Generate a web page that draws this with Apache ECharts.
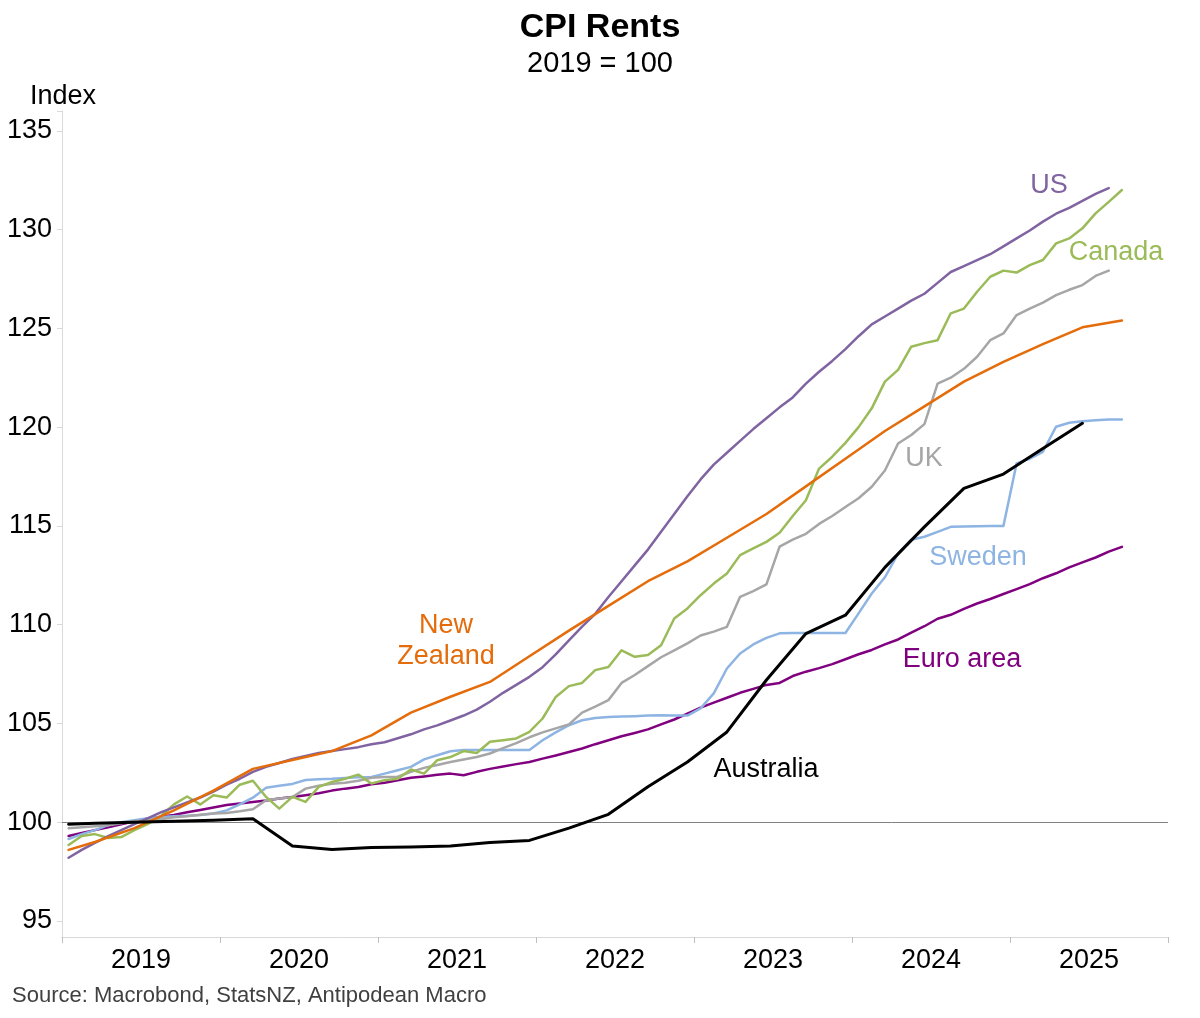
<!DOCTYPE html>
<html>
<head>
<meta charset="utf-8">
<script src="https://cdn.jsdelivr.net/npm/echarts@6/dist/echarts.min.js"></script>
<style>
html,body{margin:0;padding:0;background:#fff;}
#chart{width:1200px;height:1018px;}
</style>
</head>
<body>
<div id="chart"></div>
<script>
// ---- Data (index, 2019 = 100) ----
const yearLabels = ['2019', '2020', '2021', '2022', '2023', '2024', '2025'];
const monthlyStart = '2019-01';

const usValues = [
  98.2, 98.6, 98.95, 99.3, 99.6, 99.9, 100.2, 100.5, 100.75, 101.0,
  101.25, 101.55, 101.9, 102.2, 102.55, 102.8, 103.0, 103.2, 103.35, 103.5,
  103.6, 103.7, 103.8, 103.95, 104.05, 104.25, 104.45, 104.7, 104.9, 105.15,
  105.4, 105.7, 106.1, 106.55, 106.95, 107.36, 107.85, 108.5, 109.2, 109.9,
  110.55, 111.4, 112.2, 113.0, 113.8, 114.7, 115.6, 116.5, 117.35, 118.1,
  118.7, 119.3, 119.9, 120.45, 121.0, 121.5, 122.2, 122.8, 123.35, 123.95,
  124.6, 125.2, 125.6, 126.0, 126.4, 126.75, 127.3, 127.85, 128.15, 128.45,
  128.75, 129.15, 129.55, 129.95, 130.4, 130.8, 131.1, 131.45, 131.8, 132.1
];

const canadaValues = [
  98.85, 99.3, 99.4, 99.2, 99.25, 99.6, 99.9, 100.3, 100.9, 101.3,
  100.9, 101.37, 101.25, 101.9, 102.1, 101.28, 100.69, 101.28, 101.03, 101.79,
  102.04, 102.2, 102.41, 101.96, 102.13, 102.2, 102.67, 102.46, 103.14, 103.3,
  103.6, 103.5, 104.07, 104.15, 104.24, 104.57, 105.25, 106.34, 106.89, 107.05,
  107.7, 107.86, 108.7, 108.37, 108.46, 108.96, 110.31, 110.82, 111.49, 112.08,
  112.59, 113.52, 113.86, 114.19, 114.65, 115.5, 116.3, 117.9, 118.5, 119.2,
  120.0, 120.95, 122.3, 122.9, 124.07, 124.25, 124.4, 125.76, 126.0, 126.85,
  127.61, 127.92, 127.82, 128.2, 128.46, 129.3, 129.55, 130.06, 130.82, 131.4, 132.0
];

const ukValues = [
  99.7, 99.75, 99.8, 99.85, 99.95, 100.05, 100.1, 100.15, 100.25, 100.3,
  100.38, 100.44, 100.47, 100.55, 100.66, 101.11, 101.2, 101.27, 101.7, 101.85,
  101.95, 102.0, 102.1, 102.25, 102.29, 102.3, 102.55, 102.75, 102.9, 103.05,
  103.17, 103.3, 103.48, 103.75, 104.0, 104.3, 104.55, 104.75, 104.95, 105.55,
  105.85, 106.18, 107.05, 107.45, 107.9, 108.35, 108.7, 109.05, 109.45, 109.65,
  109.89, 111.41, 111.7, 112.04, 113.95, 114.3, 114.6, 115.1, 115.5, 115.96,
  116.4, 116.98, 117.8, 119.17, 119.6, 120.15, 122.2, 122.5, 122.95, 123.56,
  124.4, 124.74, 125.67, 126.0, 126.3, 126.68, 126.95, 127.19, 127.65, 127.92
];

const swedenValues = [
  99.15, 99.4, 99.6, 99.85, 100.0, 100.1, 100.2, 100.27, 100.3, 100.33,
  100.36, 100.44, 100.6, 100.9, 101.24, 101.74, 101.85, 101.94, 102.14, 102.18,
  102.2, 102.24, 102.28, 102.29, 102.46, 102.63, 102.8, 103.18, 103.39, 103.59,
  103.65, 103.65, 103.65, 103.65, 103.65, 103.65, 104.15, 104.55, 104.91, 105.16,
  105.28, 105.32, 105.35, 105.37, 105.4, 105.42, 105.4, 105.4, 105.76, 106.52,
  107.78, 108.54, 109.0, 109.33, 109.56, 109.58, 109.58, 109.58, 109.58, 109.58,
  110.57, 111.58, 112.4, 113.6, 114.3, 114.45, 114.7, 114.95, 114.97, 114.98,
  114.99, 114.99, 118.16, 118.4, 118.75, 120.02, 120.22, 120.3, 120.35, 120.38, 120.39
];

const euroValues = [
  99.3, 99.45, 99.6, 99.75, 99.9, 100.05, 100.18, 100.28, 100.37, 100.5,
  100.62, 100.75, 100.87, 100.95, 101.02, 101.1, 101.2, 101.28, 101.37, 101.47,
  101.6, 101.7, 101.78, 101.92, 102.0, 102.12, 102.25, 102.32, 102.4, 102.46,
  102.38, 102.55, 102.7, 102.82, 102.94, 103.05, 103.22, 103.38, 103.55, 103.73,
  103.95, 104.15, 104.35, 104.52, 104.7, 104.95, 105.2, 105.5, 105.8, 106.05,
  106.3, 106.55, 106.75, 106.95, 107.05, 107.4, 107.62, 107.8, 108.0, 108.25,
  108.5, 108.72, 109.0, 109.25, 109.6, 109.92, 110.3, 110.5, 110.8, 111.07,
  111.3, 111.55, 111.8, 112.05, 112.35, 112.6, 112.9, 113.15, 113.4, 113.7, 113.94
];

const nzDates = [
  '2019-01', '2019-03', '2019-06', '2019-09', '2019-12',
  '2020-03', '2020-06', '2020-09', '2020-12',
  '2021-03', '2021-06', '2021-09', '2021-12',
  '2022-03', '2022-06', '2022-09', '2022-12',
  '2023-03', '2023-06', '2023-09', '2023-12',
  '2024-03', '2024-06', '2024-09', '2024-12',
  '2025-03', '2025-06', '2025-09'
];
const nzValues = [
  98.6, 99.0, 99.7, 100.6, 101.6,
  102.7, 103.15, 103.6, 104.4,
  105.55, 106.35, 107.1, 108.4,
  109.7, 110.95, 112.2, 113.2,
  114.4, 115.6, 117.0, 118.4,
  119.8, 121.05, 122.3, 123.3,
  124.2, 125.05, 125.4
];

const auDates = [
  '2019-01', '2019-03', '2019-06', '2019-09', '2019-12',
  '2020-03', '2020-06', '2020-09', '2020-12',
  '2021-03', '2021-06', '2021-09', '2021-12',
  '2022-03', '2022-06', '2022-09', '2022-12',
  '2023-03', '2023-06', '2023-09', '2023-12',
  '2024-03', '2024-06', '2024-09', '2024-12',
  '2025-03', '2025-06'
];
const auValues = [
  99.9, 99.95, 100.0, 100.05, 100.1,
  100.17, 98.8, 98.62, 98.72,
  98.75, 98.8, 98.97, 99.08,
  99.7, 100.4, 101.8, 103.05,
  104.57, 107.2, 109.55, 110.48,
  112.9, 114.95, 116.9, 117.62,
  118.92, 120.19
];

// ---- helpers: month position (mid-month, months since Jan 2019) ----
function monthPos(d) {
  const [y, m] = d.split('-').map(Number);
  return (y - 2019) * 12 + (m - 1) + 0.5;
}
function monthlySeries(values) {
  const base = monthPos(monthlyStart);
  return values.map((v, i) => [base + i, v]);
}
function datedSeries(dates, values) {
  return dates.map((d, i) => [monthPos(d), values[i]]);
}

const FONT = '"Liberation Sans", Arial, Helvetica, sans-serif';

const colors = {
  us: '#8064A2',
  canada: '#9BBB59',
  uk: '#A6A6A6',
  nz: '#E46C0A',
  sweden: '#8DB4E2',
  euro: '#800080',
  au: '#000000'
};

function lineSeries(name, data, color, width, z) {
  return {
    name: name,
    type: 'line',
    data: data,
    showSymbol: false,
    symbol: 'none',
    smooth: false,
    z: z,
    lineStyle: { color: color, width: width, join: 'round', cap: 'round' },
    itemStyle: { color: color },
    emphasis: { disabled: true }
  };
}

const chart = echarts.init(document.getElementById('chart'), null, { renderer: 'canvas' });

const GRID = { left: 62, right: 32, top: 111, bottom: 97 };

const euroSeries = lineSeries('Euro area', monthlySeries(euroValues), colors.euro, 2.5, 3);
euroSeries.markLine = {
  silent: true,
  symbol: 'none',
  label: { show: false },
  lineStyle: { color: '#808080', width: 1, type: 'solid' },
  emphasis: { disabled: true },
  data: [{ yAxis: 100 }]
};

function annot(text, x, y, color) {
  return {
    type: 'text', x: x, y: y, z: 100,
    style: {
      text: text, fill: color, font: '27px ' + FONT,
      align: 'center', verticalAlign: 'middle',
      textAlign: 'center', textVerticalAlign: 'middle'
    }
  };
}

const option = {
  animation: false,
  backgroundColor: '#ffffff',
  grid: GRID,
  xAxis: [
    {
      type: 'value', min: 0, max: 84, interval: 12, offset: 16,
      axisLine: { show: true, lineStyle: { color: '#d9d9d9', width: 1 } },
      axisTick: { show: true, length: 6, lineStyle: { color: '#bfbfbf', width: 1 } },
      axisLabel: { show: false },
      splitLine: { show: false }
    },
    {
      type: 'category', data: yearLabels, boundaryGap: true,
      position: 'bottom', offset: 16,
      axisLine: { show: false }, axisTick: { show: false },
      axisLabel: { fontSize: 27, color: '#000', margin: 10, fontFamily: FONT },
      splitLine: { show: false }
    }
  ],
  yAxis: {
    type: 'value', min: 95, max: 136, interval: 5,
    axisLine: { show: true, lineStyle: { color: '#d9d9d9', width: 1 } },
    axisTick: { show: true, length: 5, lineStyle: { color: '#d9d9d9', width: 1 } },
    axisLabel: {
      fontSize: 27, color: '#000', margin: 10, fontFamily: FONT,
      formatter: v => (v % 5 === 0 ? String(v) : '')
    },
    splitLine: { show: false }
  },
  series: [
    euroSeries,
    lineSeries('Sweden', monthlySeries(swedenValues), colors.sweden, 2.5, 4),
    lineSeries('UK', monthlySeries(ukValues), colors.uk, 2.5, 5),
    lineSeries('Canada', monthlySeries(canadaValues), colors.canada, 2.5, 6),
    lineSeries('US', monthlySeries(usValues), colors.us, 2.5, 7),
    lineSeries('New Zealand', datedSeries(nzDates, nzValues), colors.nz, 2.5, 8),
    lineSeries('Australia', datedSeries(auDates, auValues), colors.au, 3, 9)
  ],
  graphic: [
    { type: 'text', x: 600, y: 28, style: { text: 'CPI Rents', fill: '#000', font: 'bold 34px ' + FONT, align: 'center', verticalAlign: 'middle', textAlign: 'center', textVerticalAlign: 'middle' } },
    { type: 'text', x: 600, y: 64, style: { text: '2019 = 100', fill: '#000', font: '29px ' + FONT, align: 'center', verticalAlign: 'middle', textAlign: 'center', textVerticalAlign: 'middle' } },
    { type: 'text', x: 63, y: 97, style: { text: 'Index', fill: '#000', font: '27px ' + FONT, align: 'center', verticalAlign: 'middle', textAlign: 'center', textVerticalAlign: 'middle' } },
    { type: 'text', x: 12, y: 996, style: { text: 'Source: Macrobond, StatsNZ, Antipodean Macro', fill: '#404040', font: '22px ' + FONT, align: 'left', verticalAlign: 'middle', textAlign: 'left', textVerticalAlign: 'middle' } },
    { type: 'line', z: 1, shape: { x1: GRID.left + 0.5, y1: 1018 - GRID.bottom, x2: GRID.left + 0.5, y2: 1018 - GRID.bottom + 16 }, style: { stroke: '#d9d9d9', lineWidth: 1 } },
    annot('US', 1049, 186, colors.us),
    annot('Canada', 1116, 253, colors.canada),
    annot('UK', 924, 459, colors.uk),
    annot('Sweden', 978, 558, colors.sweden),
    annot('Euro area', 962, 660, colors.euro),
    annot('Australia', 766, 770, colors.au),
    annot('New', 446, 626, colors.nz),
    annot('Zealand', 446, 657, colors.nz)
  ]
};

chart.setOption(option);
</script>
</body>
</html>
